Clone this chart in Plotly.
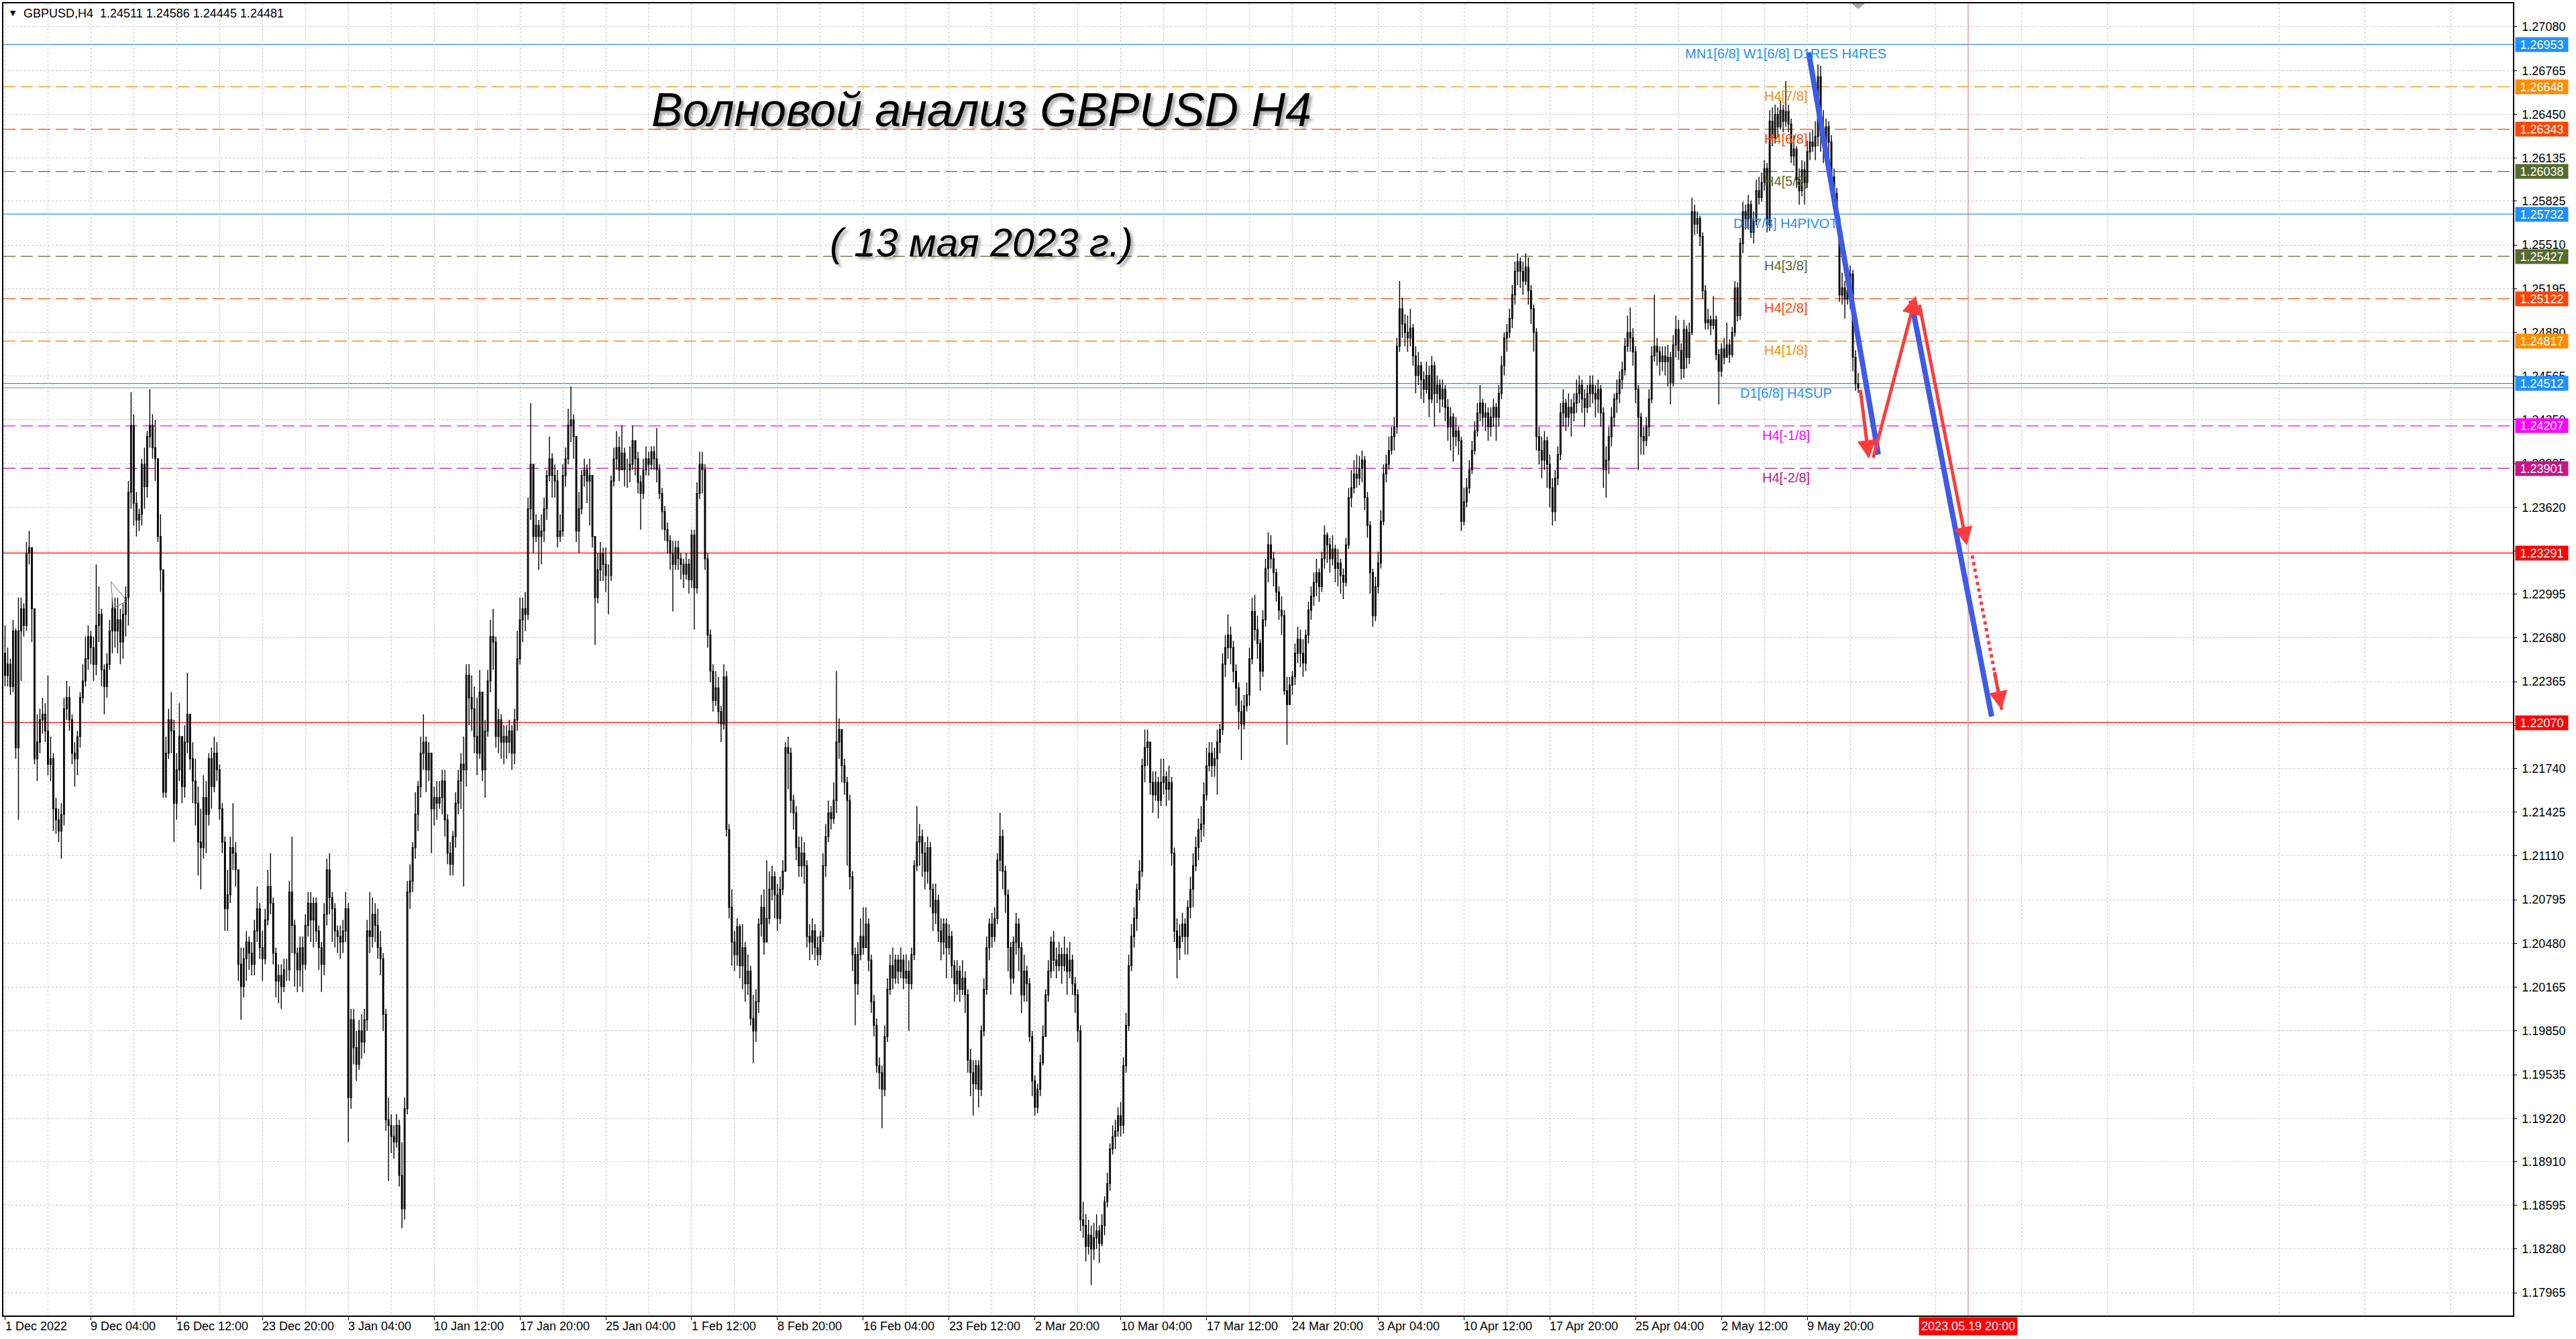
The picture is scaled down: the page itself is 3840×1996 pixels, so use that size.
import plotly.graph_objects as go

# ---------------- DATA (prices in pips: price = 1 + v/10000) ----------------
O0 = 2257
C = [
2241,2249,2233,2273,2189,2273,2289,2277,2329,2333,
2289,2181,2193,2209,2213,2201,2177,2181,2145,2137,
2129,2141,2217,2225,2209,2185,2181,2197,2225,2237,
2253,2269,2261,2249,2277,2285,2245,2233,2249,2273,
2289,2273,2281,2265,2285,2297,2373,2421,2365,2353,
2357,2393,2377,2413,2421,2405,2397,2341,2317,2157,
2185,2209,2201,2149,2173,2197,2161,2193,2213,2181,
2165,2149,2121,2117,2153,2141,2181,2161,2185,2173,
2145,2121,2073,2083,2117,2113,2101,2033,2017,2037,
2049,2041,2033,2057,2073,2045,2037,2065,2089,2077,
2041,2021,2025,2017,2029,2029,2085,2061,2041,2029,
2045,2033,2061,2077,2065,2077,2057,2045,2033,2069,
2101,2081,2073,2057,2053,2049,2057,2073,1937,1993,
1973,1961,1985,1977,1993,2057,2053,2069,2061,2045,
2037,1997,1921,1917,1909,1905,1917,1881,1857,1929,
2085,2093,2117,2141,2161,2185,2193,2173,2185,2145,
2153,2149,2153,2165,2137,2113,2105,2125,2149,2165,
2177,2173,2241,2225,2217,2197,2185,2229,2173,2201,
2237,2269,2265,2197,2209,2193,2197,2193,2201,2185,
2209,2253,2281,2289,2285,2361,2393,2341,2349,2341,
2345,2361,2385,2397,2385,2381,2341,2345,2385,2397,
2421,2425,2413,2345,2361,2385,2389,2381,2385,2341,
2297,2317,2329,2321,2313,2313,2381,2397,2405,2389,
2401,2389,2389,2393,2410,2397,2380,2372,2389,2397,
2393,2402,2397,2389,2372,2359,2346,2338,2329,2321,
2333,2325,2321,2314,2321,2310,2342,2304,2372,2393,
2389,2325,2270,2244,2223,2232,2215,2206,2240,2130,
2074,2049,2040,2060,2032,2045,2019,2028,1994,1985,
2006,2062,2074,2049,2066,2087,2096,2083,2066,2087,
2100,2189,2185,2151,2142,2117,2104,2113,2104,2053,
2049,2057,2045,2040,2053,2104,2125,2142,2138,2151,
2193,2202,2176,2164,2151,2096,2040,2019,2040,2053,
2045,2062,2036,2006,1989,1960,1955,1943,1981,2015,
2032,2023,2036,2028,2036,2023,2028,2019,2040,2104,
2121,2125,2113,2100,2117,2087,2070,2079,2057,2049,
2062,2045,2053,2032,2019,2028,2015,2023,2011,1964,
1955,1947,1960,1943,1985,2015,2045,2062,2053,2066,
2108,2125,2100,2083,2045,2023,2049,2062,2045,2011,
2028,2019,1981,1949,1930,1943,1962,1981,2011,2028,
2049,2036,2032,2040,2032,2040,2028,2036,2019,2011,
1985,1849,1845,1830,1838,1828,1836,1841,1832,1845,
1862,1875,1900,1909,1913,1924,1917,1960,1989,2032,
2053,2066,2087,2100,2176,2189,2193,2164,2155,2164,
2151,2164,2168,2159,2164,2113,2057,2045,2053,2062,
2053,2074,2087,2104,2117,2130,2134,2155,2176,2185,
2176,2181,2193,2202,2249,2261,2270,2261,2244,2232,
2215,2206,2219,2227,2253,2287,2274,2264,2244,2281,
2318,2335,2325,2315,2301,2288,2284,2230,2220,2234,
2240,2257,2267,2257,2250,2270,2288,2298,2308,2315,
2305,2325,2342,2335,2325,2332,2318,2322,2313,2308,
2335,2369,2376,2386,2383,2390,2396,2369,2349,2315,
2284,2305,2322,2352,2386,2393,2403,2413,2420,2478,
2505,2494,2488,2484,2491,2471,2457,2464,2454,2447,
2457,2440,2464,2444,2450,2440,2447,2434,2420,2427,
2413,2417,2410,2352,2366,2376,2389,2403,2417,2430,
2437,2427,2430,2420,2427,2434,2427,2444,2464,2484,
2488,2498,2515,2532,2539,2532,2525,2535,2518,2505,
2488,2413,2403,2396,2410,2393,2376,2359,2383,2400,
2430,2437,2427,2434,2430,2437,2444,2450,2440,2434,
2444,2450,2444,2440,2447,2430,2389,2396,2413,2427,
2440,2444,2454,2461,2478,2488,2484,2474,2447,2427,
2413,2410,2420,2440,2471,2478,2474,2467,2471,2467,
2470,2452,2479,2490,2475,2462,2490,2470,2488,2575,
2566,2570,2557,2518,2495,2497,2493,2497,2472,2460,
2476,2470,2479,2472,2488,2520,2500,2552,2575,2570,
2580,2560,2568,2590,2585,2596,2606,2565,2640,2628,
2645,2636,2648,2640,2647,2638,2615,2620,2598,2590,
2605,2596,2618,2625,2622,2629,2672,2630,2622,2636,
2625,2600,2588,2570,2515,2520,2512,2518,2530,2470,
2451.1,2448.1]
H = [
2277,2261,2253,2281,2275,2297,2297,2293,2337,2345,
2333,2289,2213,2217,2225,2221,2241,2197,2185,2153,
2145,2149,2225,2237,2233,2213,2193,2201,2229,2249,
2269,2277,2273,2269,2321,2305,2289,2249,2257,2281,
2297,2297,2297,2289,2293,2305,2381,2445,2429,2373,
2361,2397,2405,2417,2447,2429,2425,2397,2357,2317,
2197,2217,2229,2209,2185,2221,2197,2205,2243,2213,
2193,2181,2161,2145,2169,2165,2185,2189,2197,2193,
2177,2149,2125,2101,2125,2149,2121,2101,2045,2045,
2057,2053,2049,2065,2089,2077,2057,2073,2101,2113,
2081,2045,2033,2033,2037,2037,2093,2125,2065,2045,
2053,2053,2069,2085,2085,2081,2081,2061,2049,2077,
2109,2113,2085,2077,2061,2061,2065,2085,2077,2001,
2001,1985,1993,1997,2001,2065,2085,2081,2077,2073,
2057,2041,2001,1937,1925,1917,1925,1921,1905,1937,
2093,2105,2121,2157,2165,2197,2213,2197,2193,2185,
2161,2165,2165,2173,2173,2141,2121,2129,2157,2173,
2185,2197,2249,2249,2241,2233,2225,2245,2229,2209,
2245,2281,2289,2269,2217,2213,2205,2205,2209,2205,
2217,2273,2297,2297,2301,2369,2437,2393,2357,2353,
2357,2369,2389,2413,2401,2393,2389,2357,2393,2405,
2433,2449,2429,2413,2373,2389,2397,2393,2397,2385,
2341,2329,2337,2333,2333,2321,2385,2405,2417,2413,
2421,2405,2397,2406,2421,2410,2402,2385,2397,2406,
2402,2406,2406,2419,2393,2376,2363,2351,2342,2338,
2338,2338,2329,2325,2329,2325,2346,2346,2380,2402,
2402,2393,2329,2274,2249,2244,2240,2219,2249,2244,
2134,2087,2057,2066,2062,2062,2049,2040,2032,2011,
2015,2066,2083,2087,2108,2100,2104,2100,2091,2096,
2108,2193,2197,2189,2155,2147,2125,2125,2121,2108,
2062,2066,2062,2053,2057,2113,2134,2151,2147,2164,
2244,2210,2202,2181,2168,2155,2100,2045,2049,2066,
2074,2074,2066,2040,2011,1994,1966,1960,1989,2023,
2040,2045,2040,2040,2045,2040,2040,2036,2045,2108,
2147,2134,2130,2121,2125,2121,2091,2091,2083,2066,
2066,2066,2062,2057,2036,2036,2032,2036,2028,2015,
1972,1964,1964,1964,1989,2023,2053,2066,2070,2074,
2113,2142,2130,2104,2087,2049,2053,2070,2066,2049,
2040,2032,2023,1985,1953,1947,1968,1989,2015,2036,
2053,2057,2045,2049,2045,2053,2045,2049,2040,2024,
2015,1989,1862,1853,1849,1845,1847,1853,1845,1853,
1866,1883,1904,1917,1921,1930,1934,1966,1998,2040,
2062,2074,2091,2108,2181,2202,2202,2193,2172,2172,
2168,2181,2181,2172,2176,2168,2117,2066,2062,2070,
2066,2079,2096,2113,2125,2138,2147,2164,2189,2193,
2193,2189,2202,2206,2257,2270,2285,2276,2266,2249,
2236,2223,2227,2236,2261,2297,2299,2284,2267,2288,
2325,2344,2342,2330,2318,2305,2298,2288,2240,2240,
2244,2264,2276,2274,2267,2274,2294,2305,2315,2325,
2318,2330,2349,2344,2340,2342,2335,2332,2325,2318,
2340,2376,2389,2396,2400,2399,2403,2399,2373,2352,
2318,2312,2330,2360,2393,2400,2413,2420,2427,2484,
2525,2513,2501,2500,2505,2494,2478,2474,2467,2460,
2467,2464,2471,2467,2457,2454,2454,2450,2440,2434,
2430,2427,2420,2413,2376,2383,2396,2410,2424,2437,
2450,2440,2437,2434,2434,2440,2437,2450,2471,2488,
2494,2505,2522,2539,2545,2542,2539,2545,2542,2522,
2508,2491,2420,2413,2417,2413,2400,2383,2389,2406,
2437,2447,2440,2444,2440,2444,2454,2457,2454,2447,
2450,2457,2457,2450,2454,2450,2434,2406,2420,2434,
2444,2454,2460,2467,2484,2500,2506,2491,2478,2450,
2430,2420,2427,2447,2478,2515,2484,2478,2478,2478,
2479,2474,2486,2500,2497,2480,2497,2493,2495,2585,
2580,2575,2572,2560,2522,2505,2500,2514,2500,2476,
2480,2484,2495,2483,2492,2525,2524,2556,2582,2580,
2587,2583,2575,2598,2600,2603,2612,2610,2648,2650,
2652,2650,2655,2652,2669,2652,2642,2630,2622,2606,
2612,2611,2626,2632,2634,2640,2681,2680,2648,2642,
2640,2630,2606,2592,2572,2531,2525,2522,2536,2533,
2475,2458.6]
L = [
2233,2233,2227,2229,2181,2137,2237,2269,2273,2321,
2265,2177,2165,2185,2199,2193,2169,2165,2129,2127,
2121,2109,2133,2209,2201,2177,2161,2169,2189,2221,
2233,2245,2249,2237,2241,2265,2233,2213,2225,2245,
2257,2261,2257,2249,2253,2269,2277,2361,2349,2341,
2345,2349,2361,2369,2405,2397,2381,2337,2301,2153,
2153,2181,2185,2121,2137,2165,2149,2153,2185,2173,
2149,2133,2097,2087,2109,2113,2133,2145,2157,2165,
2137,2113,2057,2057,2077,2101,2089,2021,1993,2009,
2021,2029,2025,2025,2049,2037,2021,2033,2061,2069,
2033,2009,2005,2001,2013,2021,2021,2041,2017,2013,
2017,2013,2029,2053,2049,2045,2049,2029,2013,2025,
2061,2069,2049,2045,2041,2037,2041,2049,1905,1929,
1961,1949,1957,1965,1969,1985,2041,2045,2049,2037,
2025,1985,1913,1877,1897,1893,1901,1873,1843,1849,
1925,2073,2085,2109,2129,2153,2173,2157,2165,2113,
2133,2137,2145,2141,2125,2105,2097,2097,2117,2141,
2145,2089,2161,2205,2201,2185,2169,2181,2165,2153,
2197,2229,2245,2189,2185,2181,2177,2181,2185,2173,
2177,2201,2249,2265,2273,2281,2353,2329,2337,2317,
2321,2337,2353,2381,2369,2369,2333,2337,2341,2377,
2393,2409,2397,2337,2329,2357,2377,2365,2349,2333,
2263,2293,2309,2309,2301,2285,2309,2377,2389,2381,
2389,2377,2376,2380,2389,2385,2372,2346,2368,2385,
2385,2389,2389,2380,2368,2346,2338,2329,2317,2287,
2317,2317,2310,2304,2310,2300,2304,2274,2300,2368,
2372,2317,2261,2236,2215,2219,2206,2193,2202,2125,
2066,2032,2028,2032,2023,2015,2006,2011,1989,1962,
1977,1998,2053,2040,2049,2062,2079,2066,2057,2062,
2083,2100,2159,2142,2130,2108,2096,2096,2091,2045,
2036,2040,2036,2032,2036,2049,2096,2121,2130,2134,
2142,2181,2164,2155,2104,2087,2028,1989,2011,2036,
2040,2049,2028,1998,1981,1955,1943,1915,1938,1977,
2011,2015,2019,2019,2023,2015,2019,1985,2015,2036,
2100,2104,2096,2087,2091,2074,2057,2062,2049,2036,
2040,2023,2040,2023,2006,2011,2006,2011,1998,1955,
1938,1924,1943,1930,1938,1981,2011,2036,2045,2049,
2062,2100,2087,2070,2028,2011,2019,2040,2028,1998,
2006,2006,1977,1938,1924,1926,1938,1960,1981,2006,
2023,2028,2023,2028,2019,2028,2011,2023,2011,1998,
1977,1841,1836,1819,1824,1802,1820,1828,1818,1830,
1838,1858,1870,1896,1900,1909,1909,1911,1955,1985,
2028,2045,2057,2079,2096,2164,2176,2155,2142,2151,
2138,2147,2155,2147,2151,2104,2049,2023,2036,2049,
2040,2040,2066,2074,2100,2108,2121,2125,2151,2172,
2168,2168,2155,2185,2198,2240,2253,2249,2236,2219,
2202,2180,2202,2215,2219,2249,2266,2253,2230,2240,
2276,2308,2318,2305,2294,2281,2270,2227,2191,2220,
2227,2234,2250,2247,2240,2244,2264,2281,2291,2298,
2294,2301,2318,2322,2315,2320,2308,2305,2300,2296,
2305,2332,2362,2372,2376,2378,2380,2360,2340,2300,
2276,2280,2300,2318,2349,2380,2389,2400,2403,2415,
2474,2484,2478,2474,2478,2464,2444,2450,2440,2437,
2444,2427,2437,2420,2437,2430,2434,2424,2410,2403,
2395,2406,2400,2345,2349,2362,2372,2386,2400,2413,
2424,2420,2417,2410,2413,2420,2410,2420,2440,2457,
2474,2484,2491,2508,2522,2520,2515,2522,2508,2494,
2474,2403,2393,2383,2389,2376,2362,2349,2352,2378,
2396,2420,2417,2420,2413,2424,2430,2437,2430,2420,
2430,2434,2437,2427,2430,2420,2376,2369,2386,2406,
2420,2430,2437,2447,2457,2474,2474,2464,2437,2389,
2400,2400,2406,2413,2437,2467,2464,2457,2460,2457,
2449,2436,2449,2470,2468,2454,2455,2462,2465,2486,
2558,2559,2550,2512,2490,2490,2486,2490,2468,2436,
2456,2465,2470,2466,2470,2485,2496,2497,2545,2562,
2562,2556,2552,2565,2580,2582,2590,2560,2561,2622,
2624,2628,2634,2632,2636,2632,2610,2608,2592,2580,
2586,2580,2592,2612,2618,2612,2622,2618,2610,2618,
2615,2596,2580,2566,2510,2508,2498,2508,2505,2460,
2446,2444.5]

# x-axis labels (bar index -> text)
x_label_idx = [0, 32, 64, 96, 128, 160, 192, 224, 256, 288, 320,
               352, 384, 416, 448, 480, 512, 544, 576, 608, 640, 672]
x_label_txt = ["1 Dec 2022", "9 Dec 04:00", "16 Dec 12:00", "23 Dec 20:00",
               "3 Jan 04:00", "10 Jan 12:00", "17 Jan 20:00", "25 Jan 04:00",
               "1 Feb 12:00", "8 Feb 20:00", "16 Feb 04:00", "23 Feb 12:00",
               "2 Mar 20:00", "10 Mar 04:00", "17 Mar 12:00", "24 Mar 20:00",
               "3 Apr 04:00", "10 Apr 12:00", "17 Apr 20:00", "25 Apr 04:00",
               "2 May 12:00", "9 May 20:00"]
future_idx = 732
future_txt = "2023.05.19 20:00"

y_ticks = [1.27080, 1.26765, 1.26450, 1.26135, 1.25825, 1.25510, 1.25195,
           1.24880, 1.24565, 1.24250, 1.23935, 1.23620, 1.23305, 1.22995,
           1.22680, 1.22365, 1.22050, 1.21740, 1.21425, 1.21110, 1.20795,
           1.20480, 1.20165, 1.19850, 1.19535, 1.19220, 1.18910, 1.18595,
           1.18280, 1.17965]

# Murrey-style levels: value, label, colour, dashed?
level_val = [1.27258, 1.26953, 1.26648, 1.26343, 1.26038, 1.25732, 1.25427,
             1.25122, 1.24817, 1.24512, 1.24207, 1.23901]
level_txt = ["H4[+1/8]", "MN1[6/8] W1[6/8] D1RES H4RES", "H4[7/8]", "H4[6/8]",
             "H4[5/8]", "D1[7/8] H4PIVOT", "H4[3/8]", "H4[2/8]", "H4[1/8]",
             "D1[6/8] H4SUP", "H4[-1/8]", "H4[-2/8]"]
level_col = ["#FF00FF", "#1E90FF", "#FF8C00", "#FF4500", "#556B2F", "#1E90FF",
             "#556B2F", "#FF4500", "#FF8C00", "#1E90FF", "#FF00FF", "#C71585"]
level_dash = [True, False, True, True, True, False, True, True, True, False,
              True, True]

red_levels = [1.23291, 1.22070]
bid_price = 1.24481

# forecast path (bar index, price)
blue1 = [(672.5, 1.26896), (698.5, 1.24000)]
blue2 = [(710.75, 1.25109), (740.75, 1.22114)]
red_arrows = [((691.75, 1.24472), (695.0, 1.23970)),
              ((696.5, 1.23970), (712.5, 1.25143)),
              ((713.75, 1.25085), (731.5, 1.23346))]
red_dotted = ((733.5, 1.23274), (744.5, 1.22163))

# ---------------- BUILD ----------------
n = min(len(C), len(H), len(L))
close = [1 + v / 10000 for v in C[:n]]
opens = [1 + O0 / 10000] + close[:-1]
high = [max(1 + h / 10000, o, c) for h, o, c in zip(H[:n], opens, close)]
low = [min(1 + l / 10000, o, c) for l, o, c in zip(L[:n], opens, close)]
idx = list(range(n))

FONT = "Liberation Sans, Arial, sans-serif"
GRID = "#C8C8C8"

fig = go.Figure(go.Candlestick(
    x=idx, open=opens, high=high, low=low, close=close,
    increasing=dict(line=dict(color="black", width=1.4), fillcolor="white"),
    decreasing=dict(line=dict(color="black", width=1.4), fillcolor="black"),
    whiskerwidth=0, hoverinfo="skip", showlegend=False))

shapes = []
annotations = []

# horizontal levels
for v, t, col, d in zip(level_val, level_txt, level_col, level_dash):
    shapes.append(dict(type="line", xref="paper", yref="y", x0=0, x1=1, y0=v, y1=v,
                       line=dict(color=col, width=1.3, dash="18px,8px" if d else "solid"),
                       layer="below"))
    annotations.append(dict(x=664, y=v, xref="x", yref="y", text=t, showarrow=False,
                            xanchor="center", yanchor="top", yshift=-1,
                            font=dict(family=FONT, size=20, color=col)))
for v in red_levels:
    shapes.append(dict(type="line", xref="paper", yref="y", x0=0, x1=1, y0=v, y1=v,
                       line=dict(color="#FF0000", width=1.2), layer="below"))
shapes.append(dict(type="line", xref="paper", yref="y", x0=0, x1=1, y0=bid_price, y1=bid_price,
                   line=dict(color="#A0A0A0", width=1.2), layer="below"))

# future vertical line
shapes.append(dict(type="line", xref="x", yref="paper", x0=future_idx, x1=future_idx, y0=0, y1=1,
                   line=dict(color="#F08080", width=1.2)))

# chart-shift marker
shapes.append(dict(type="path", xref="x", yref="paper",
                   path="M 688.5 1 L 693.5 1 L 691 0.9955 Z",
                   fillcolor="#A8A8A8", line=dict(width=0)))

# small arrow object on the left
shapes.append(dict(type="path", xref="x", yref="y",
                   path="M 39.5 1.23085 L 45.5 1.22945 L 40.3 1.22895 Z",
                   line=dict(color="#707070", width=1), fillcolor="rgba(0,0,0,0)"))

# blue lines
for seg in (blue1, blue2):
    shapes.append(dict(type="line", xref="x", yref="y", x0=seg[0][0], y0=seg[0][1],
                       x1=seg[1][0], y1=seg[1][1], line=dict(color="#3D5BE8", width=8)))

# red dotted
shapes.append(dict(type="line", xref="x", yref="y", x0=red_dotted[0][0], y0=red_dotted[0][1],
                   x1=red_dotted[1][0], y1=red_dotted[1][1],
                   line=dict(color="#FF3B3B", width=5, dash="dot")))

for (a, b) in red_arrows:
    annotations.append(dict(x=b[0], y=b[1], ax=a[0], ay=a[1], xref="x", yref="y",
                            axref="x", ayref="y", text="", showarrow=True,
                            arrowhead=2, arrowsize=1.1, arrowwidth=5, arrowcolor="#FF3B3B"))
# arrow head for dotted
dx = red_dotted[1][0] - red_dotted[0][0]
dy = red_dotted[1][1] - red_dotted[0][1]
annotations.append(dict(x=red_dotted[1][0], y=red_dotted[1][1],
                        ax=red_dotted[1][0] - dx * 0.25, ay=red_dotted[1][1] - dy * 0.25,
                        xref="x", yref="y", axref="x", ayref="y", text="", showarrow=True,
                        arrowhead=2, arrowsize=1.1, arrowwidth=5, arrowcolor="#FF3B3B"))

# right-axis price boxes
box_vals = [1.26953, 1.26648, 1.26343, 1.26038, 1.25732, 1.25427, 1.25122,
            1.24817, 1.24512, 1.24207, 1.23901, 1.23291, 1.22070]
box_cols = ["#1E90FF", "#FF8C00", "#FF4500", "#556B2F", "#1E90FF", "#556B2F",
            "#FF4500", "#FF8C00", "#1E90FF", "#FF00FF", "#C71585", "#FF0000", "#FF0000"]
for v, col in zip(box_vals, box_cols):
    annotations.append(dict(x=1, y=v, xref="paper", yref="y", xanchor="left", yanchor="middle",
                            xshift=3, text=f"{v:.5f}", showarrow=False, bgcolor=col,
                            width=74, height=17, borderpad=2, align="center",
                            font=dict(family=FONT, size=18, color="white")))

# x labels
for i, t in zip(x_label_idx, x_label_txt):
    annotations.append(dict(x=i, y=0, xref="x", yref="paper", xanchor="left", yanchor="top",
                            xshift=-2, yshift=-4, text=t, showarrow=False,
                            font=dict(family=FONT, size=18, color="black")))
annotations.append(dict(x=future_idx, y=0, xref="x", yref="paper", xanchor="center",
                        yanchor="top", yshift=-2, text=future_txt, showarrow=False,
                        bgcolor="#FF0000", borderpad=3,
                        font=dict(family=FONT, size=18, color="white")))

# header
annotations.append(dict(x=0, y=1, xref="paper", yref="paper", xanchor="left", yanchor="top",
                        xshift=8, yshift=-6, text="▼", showarrow=False,
                        font=dict(family="DejaVu Sans", size=11, color="black")))
annotations.append(dict(x=0, y=1, xref="paper", yref="paper", xanchor="left", yanchor="top",
                        xshift=28, yshift=-3, text="GBPUSD,H4  1.24511 1.24586 1.24445 1.24481",
                        showarrow=False, font=dict(family=FONT, size=18, color="black")))

# titles
annotations.append(dict(x=0.3898, y=0.9187, xref="paper", yref="paper", xanchor="center",
                        yanchor="middle", text="Волновой анализ GBPUSD H4", showarrow=False,
                        font=dict(family="Liberation Sans Narrow, Liberation Sans, sans-serif",
                                  size=70, color="black", style="italic",
                                  shadow="4px 4px 4px rgba(0,0,0,0.35)")))
annotations.append(dict(x=0.3898, y=0.8175, xref="paper", yref="paper", xanchor="center",
                        yanchor="middle", text="( 13 мая 2023 г.)", showarrow=False,
                        font=dict(family="Liberation Sans Narrow, Liberation Sans, sans-serif",
                                  size=59, color="black", style="italic",
                                  shadow="4px 4px 4px rgba(0,0,0,0.35)")))

minor_vals = [16 + 32 * k for k in range(0, 30)]

fig.update_layout(
    width=3840, height=1996,
    margin=dict(l=3, r=94, t=5, b=35),
    paper_bgcolor="white", plot_bgcolor="white",
    showlegend=False, hovermode=False, boxgap=0.45,
    shapes=shapes, annotations=annotations,
    xaxis=dict(range=[-0.625, 935.125], rangeslider=dict(visible=False),
               tickmode="array", tickvals=x_label_idx, showticklabels=False,
               ticks="outside", ticklen=5, tickcolor="black",
               showgrid=True, gridcolor=GRID, griddash="3px,3px", gridwidth=1,
               minor=dict(tickmode="array", tickvals=minor_vals, showgrid=True,
                          gridcolor=GRID, griddash="3px,3px", gridwidth=1, ticks=""),
               showline=True, linecolor="black", linewidth=1.5, mirror=True,
               zeroline=False, fixedrange=True),
    yaxis=dict(range=[1.17801, 1.27249], side="right", tickmode="array",
               tickvals=y_ticks, ticktext=[f"{v:.5f}" for v in y_ticks],
               ticks="outside", ticklen=4, tickcolor="black", ticklabelstandoff=4,
               tickfont=dict(family=FONT, size=18, color="black"),
               showgrid=True, gridcolor=GRID, griddash="3px,3px", gridwidth=1,
               showline=True, linecolor="black", linewidth=1.5, mirror=True,
               zeroline=False, fixedrange=True),
)

fig.write_html("out.html", config={"displayModeBar": False},
               post_script="document.body.style.margin='0px';")
